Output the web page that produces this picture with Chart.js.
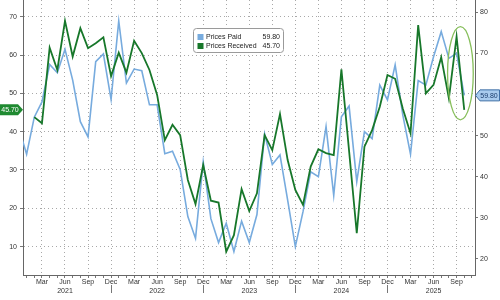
<!DOCTYPE html>
<html>
<head>
<meta charset="utf-8">
<script src="https://cdn.jsdelivr.net/npm/chart.js@4.4.1/dist/chart.umd.min.js"></script>
<style>
  html, body { margin: 0; padding: 0; background: #fff; }
  #wrap { width: 500px; height: 300px; }
</style>
</head>
<body>
<div id="wrap"><canvas id="myChart" width="500" height="300"></canvas></div>
<script>
const months = [
  '2020-12',
  '2021-01', '2021-02', '2021-03', '2021-04', '2021-05', '2021-06', '2021-07', '2021-08', '2021-09', '2021-10', '2021-11', '2021-12',
  '2022-01', '2022-02', '2022-03', '2022-04', '2022-05', '2022-06', '2022-07', '2022-08', '2022-09', '2022-10', '2022-11', '2022-12',
  '2023-01', '2023-02', '2023-03', '2023-04', '2023-05', '2023-06', '2023-07', '2023-08', '2023-09', '2023-10', '2023-11', '2023-12',
  '2024-01', '2024-02', '2024-03', '2024-04', '2024-05', '2024-06', '2024-07', '2024-08', '2024-09', '2024-10', '2024-11', '2024-12',
  '2025-01', '2025-02', '2025-03', '2025-04', '2025-05', '2025-06', '2025-07', '2025-08', '2025-09', '2025-10'
];

// right axis
const pricesPaid = [
  51.8,
  45.5, 54.5, 58.2, 67.3, 65.3, 71.0, 63.5, 53.4, 49.7, 68.0, 69.9, 58.8,
  77.9, 62.8, 66.2, 65.8, 57.5, 57.5, 45.6, 46.2, 41.8, 30.3, 25.0, 43.6,
  29.8, 24.0, 28.7, 21.8, 29.2, 24.0, 30.8, 50.4, 43.0, 45.3, 34.3, 23.0,
  31.5, 41.2, 40.0, 52.2, 35.5, 54.6, 57.2, 38.8, 51.0, 49.3, 62.3, 58.7,
  67.2, 55.0, 45.5, 63.4, 62.3, 69.2, 75.3, 68.8, 70.0, 59.8
];

// left axis
const pricesReceived = [
  null,
  null, 43.8, 42.2, 61.9, 56.1, 68.9, 59.6, 67.0, 61.8, 63.1, 64.6, 54.5,
  60.6, 55.4, 63.7, 60.5, 56.1, 49.6, 37.8, 41.8, 39.1, 27.4, 21.1, 31.3,
  22.0, 21.5, 8.7, 13.0, 25.0, 19.3, 23.9, 39.1, 35.2, 44.6, 32.6, 24.8,
  20.9, 30.9, 35.4, 34.4, 33.9, 56.3, 35.0, 13.5, 36.1, 40.4, 46.5, 54.8,
  53.8, 46.0, 39.6, 67.8, 50.0, 52.2, 59.4, 48.7, 64.8, 45.7
];

const monthNames = { '03': 'Mar', '06': 'Jun', '09': 'Sep', '12': 'Dec' };
const leftTicks = [10, 20, 30, 40, 50, 60, 70];
const rightTicks = [20, 30, 40, 50, 60, 70, 80];

const BLUE = '#77abde';
const GREEN = '#17772a';
const FONT = "'Liberation Sans', Arial, sans-serif";
const GRID = '#a8a8a8';

Chart.defaults.font.family = FONT;
Chart.defaults.font.size = 7;
Chart.defaults.color = '#333';

const toPoints = arr => arr.map((v, i) => ({ x: i, y: v }));
const lastOf = arr => arr[arr.length - 1];
const isQuarter = v => months[v] && monthNames[months[v].slice(5)];

const annotations = {
  id: 'annotations',
  afterDatasetsDraw(chart) {
    const ctx = chart.ctx;
    const n = months.length;
    const pts = [];
    chart.data.datasets.forEach((d, di) => {
      const meta = chart.getDatasetMeta(di);
      pts.push(meta.data[n - 1], meta.data[n - 2]);
    });
    const xs = pts.map(p => p.x), ys = pts.map(p => p.y);
    const cx = (Math.min(...xs) + Math.max(...xs)) / 2;
    const cy = (Math.min(...ys) + Math.max(...ys)) / 2;
    const rx = (Math.max(...xs) - Math.min(...xs)) / 2 + 9;
    const ry = (Math.max(...ys) - Math.min(...ys)) / 2 + 10;
    ctx.save();
    ctx.strokeStyle = '#86be5a';
    ctx.lineWidth = 1.3;
    ctx.beginPath();
    ctx.ellipse(cx, cy, rx, ry, 0, 0, Math.PI * 2);
    ctx.stroke();
    ctx.restore();
  },
  afterDraw(chart) {
    const ctx = chart.ctx;
    const xs = chart.scales.x, yL = chart.scales.yL, yR = chart.scales.yR;
    const area = chart.chartArea;
    ctx.save();

    // year separators under the Dec ticks
    ctx.strokeStyle = '#777';
    ctx.lineWidth = 1;
    xs.ticks.forEach(t => {
      if (months[t.value] && months[t.value].endsWith('-12')) {
        const x = Math.round(xs.getPixelForValue(t.value)) + 0.5;
        ctx.beginPath();
        ctx.moveTo(x, area.bottom + 10);
        ctx.lineTo(x, area.bottom + 18);
        ctx.stroke();
      }
    });

    // left value tag
    const lv = lastOf(pricesReceived);
    let y = yL.getPixelForValue(lv);
    ctx.fillStyle = '#1f8a31';
    ctx.beginPath();
    ctx.moveTo(0, y - 5.5);
    ctx.lineTo(18, y - 5.5);
    ctx.lineTo(area.left, y);
    ctx.lineTo(18, y + 5.5);
    ctx.lineTo(0, y + 5.5);
    ctx.closePath();
    ctx.fill();
    ctx.fillStyle = '#fff';
    ctx.font = '7px ' + FONT;
    ctx.textAlign = 'center';
    ctx.textBaseline = 'middle';
    ctx.fillText(lv.toFixed(2), 10, y + 0.5);

    // right value tag
    const rv = lastOf(pricesPaid);
    y = yR.getPixelForValue(rv);
    ctx.fillStyle = '#a9cbee';
    ctx.strokeStyle = '#3f6fa6';
    ctx.beginPath();
    ctx.moveTo(area.right + 0.5, y);
    ctx.lineTo(area.right + 5, y - 5.5);
    ctx.lineTo(499.5, y - 5.5);
    ctx.lineTo(499.5, y + 5.5);
    ctx.lineTo(area.right + 5, y + 5.5);
    ctx.closePath();
    ctx.fill();
    ctx.stroke();
    ctx.fillStyle = '#1b3c6c';
    ctx.fillText(rv.toFixed(2), 489, y + 0.5);

    // legend box
    const bx = 193, by = 28.5, bw = 90, bh = 24;
    ctx.fillStyle = '#fff';
    ctx.strokeStyle = '#9a9a9a';
    ctx.beginPath();
    ctx.roundRect(bx + 0.5, by, bw, bh, 3);
    ctx.fill();
    ctx.stroke();
    const rows = [
      { color: BLUE, name: 'Prices Paid', value: lastOf(pricesPaid) },
      { color: GREEN, name: 'Prices Received', value: lastOf(pricesReceived) }
    ];
    ctx.font = '7px ' + FONT;
    ctx.textBaseline = 'middle';
    rows.forEach((r, i) => {
      const ry = by + 8.5 + i * 9;
      ctx.fillStyle = r.color;
      ctx.fillRect(bx + 4.5, ry - 3, 6, 6);
      ctx.fillStyle = '#222';
      ctx.textAlign = 'left';
      ctx.fillText(r.name, bx + 13, ry);
      ctx.textAlign = 'right';
      ctx.fillText(r.value.toFixed(2), bx + bw - 3, ry);
    });
    ctx.restore();
  }
};

new Chart(document.getElementById('myChart'), {
  type: 'line',
  data: {
    datasets: [{
      label: 'Prices Received',
      data: toPoints(pricesReceived),
      yAxisID: 'yL',
      borderColor: GREEN,
      borderWidth: 1.8,
      pointRadius: 0,
      tension: 0,
      fill: false
    }, {
      label: 'Prices Paid',
      data: toPoints(pricesPaid),
      yAxisID: 'yR',
      borderColor: BLUE,
      borderWidth: 1.6,
      pointRadius: 0,
      tension: 0,
      fill: false
    }]
  },
  options: {
    responsive: false,
    animation: false,
    devicePixelRatio: 1,
    layout: { padding: 0 },
    plugins: {
      legend: { display: false },
      tooltip: { enabled: false }
    },
    scales: {
      x: {
        type: 'linear',
        min: 0.53,
        max: 59.4,
        afterBuildTicks: s => {
          const t = [];
          for (let v = Math.ceil(s.min); v <= Math.floor(s.max); v++) t.push({ value: v });
          s.ticks = t;
        },
        afterFit: s => { s.height = 25; s.paddingLeft = 0; s.paddingRight = 0; },
        ticks: {
          autoSkip: false,
          maxRotation: 0,
          padding: 0,
          color: '#333',
          callback: v => {
            const m = months[v];
            if (!m) return '';
            const name = monthNames[m.slice(5)];
            if (!name) return '';
            return name === 'Jun' ? [name, m.slice(0, 4)] : name;
          }
        },
        grid: {
          color: c => isQuarter(c.scale.ticks[c.index] && c.scale.ticks[c.index].value) ? GRID : 'rgba(0,0,0,0)',
          tickColor: '#777',
          tickLength: 3,
          lineWidth: 1
        },
        border: { color: '#666', width: 1, dash: [1, 3] }
      },
      yL: {
        type: 'linear',
        position: 'left',
        min: 2.6,
        max: 74.36,
        afterBuildTicks: s => { s.ticks = leftTicks.map(v => ({ value: v })); },
        afterFit: s => { s.width = 23; s.paddingTop = 0; s.paddingBottom = 0; },
        ticks: { padding: 3, color: '#333' },
        grid: { color: GRID, tickColor: '#777', tickLength: 3 },
        border: { color: '#666', width: 1, dash: [1, 3] }
      },
      yR: {
        type: 'linear',
        position: 'right',
        min: 16.1,
        max: 83.0,
        afterBuildTicks: s => { s.ticks = rightTicks.map(v => ({ value: v })); },
        afterFit: s => { s.width = 25; s.paddingTop = 0; s.paddingBottom = 0; },
        ticks: { padding: 2, color: '#333' },
        grid: { drawOnChartArea: false, tickColor: '#777', tickLength: 3 },
        border: { color: '#666', width: 1 }
      }
    }
  },
  plugins: [annotations]
});
</script>
</body>
</html>
